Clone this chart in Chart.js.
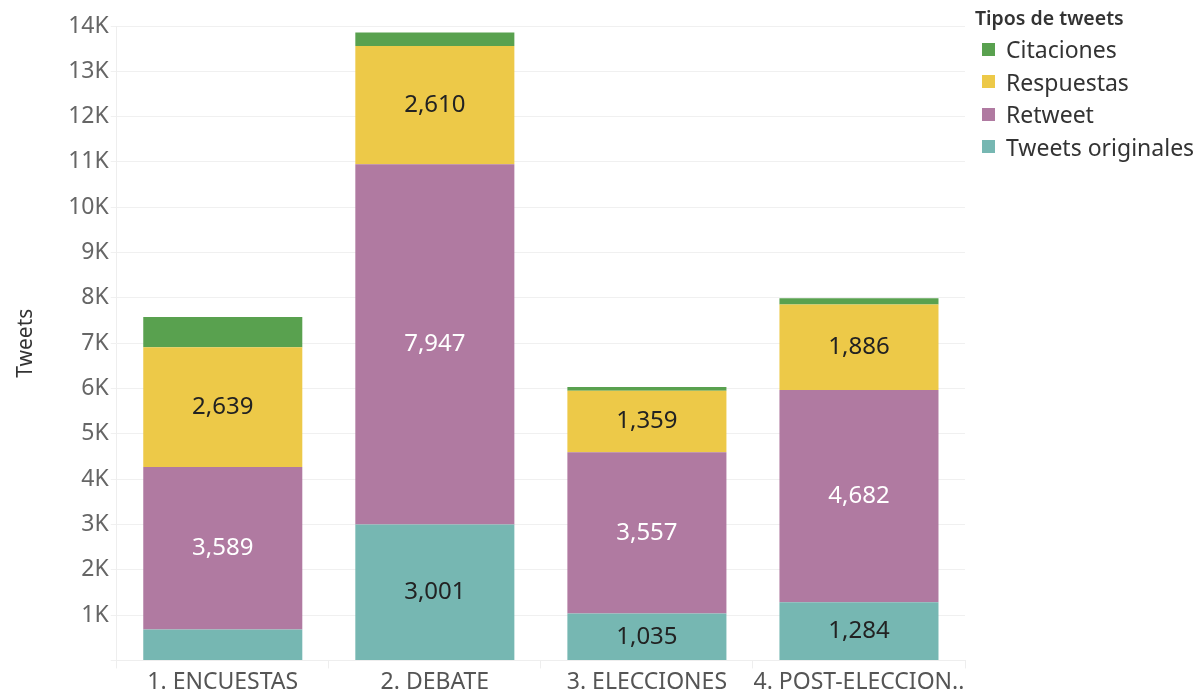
<!DOCTYPE html>
<html>
<head>
<meta charset="utf-8">
<script src="https://cdn.jsdelivr.net/npm/chart.js@4/dist/chart.umd.min.js"></script>
<style>
  html, body { margin: 0; padding: 0; background: #fff; }
  .wrap { position: relative; width: 1200px; height: 696px; font-family: "Noto Sans", sans-serif; }
  #chart { position: absolute; left: 0; top: 0; }
  .legend { position: absolute; left: 975px; top: 4px; color: #333; }
  .legend-title { font-size: 19.5px; font-weight: 600; margin-bottom: 2px; }
  .legend-item { display: flex; align-items: center; height: 32.5px; font-size: 23px; padding-left: 7px; }
  .legend-item span.sw { width: 13px; height: 13px; margin-right: 11px; }
</style>
</head>
<body>
<div class="wrap">
  <canvas id="chart" width="1200" height="696"></canvas>
  <div class="legend" id="legend"></div>
</div>
<script>
// ---------------- data ----------------
const categories = ['1. ENCUESTAS', '2. DEBATE', '3. ELECCIONES', '4. POST-ELECCION..'];
const tweetsOriginales = [680, 3001, 1035, 1284];
const retweet = [3589, 7947, 3557, 4682];
const respuestas = [2639, 2610, 1359, 1886];
const citaciones = [670, 300, 85, 140];
const yTicks = [0, 1000, 2000, 3000, 4000, 5000, 6000, 7000, 8000, 9000, 10000, 11000, 12000, 13000, 14000];

const colors = {
    orig: '#76B7B2',
    rt: '#B07AA1',
    resp: '#EDC948',
    cit: '#59A14F'
};

const datasets = [
    { label: 'Tweets originales', data: tweetsOriginales, backgroundColor: colors.orig, labelColor: '#222' },
    { label: 'Retweet', data: retweet, backgroundColor: colors.rt, labelColor: '#fff' },
    { label: 'Respuestas', data: respuestas, backgroundColor: colors.resp, labelColor: '#222' },
    { label: 'Citaciones', data: citaciones, backgroundColor: colors.cit, labelColor: '#222' }
];

// ---------------- labels inside the bars ----------------
const barLabels = {
    id: 'barLabels',
    afterDatasetsDraw(chart) {
        const ctx = chart.ctx;
        ctx.save();
        ctx.font = '24px "Noto Sans", sans-serif';
        ctx.textAlign = 'center';
        ctx.textBaseline = 'middle';
        chart.data.datasets.forEach((ds, i) => {
            chart.getDatasetMeta(i).data.forEach((bar, j) => {
                const h = Math.abs(bar.base - bar.y);
                if (h < 40) return;
                ctx.fillStyle = ds.labelColor;
                ctx.fillText(ds.data[j].toLocaleString('en-US'), bar.x, (bar.y + bar.base) / 2);
            });
        });
        ctx.restore();
    }
};

new Chart(document.getElementById('chart'), {
    type: 'bar',
    data: { labels: categories, datasets: datasets },
    plugins: [barLabels],
    options: {
        responsive: false,
        animation: false,
        layout: { padding: { left: 13, right: 235, top: 26, bottom: 0 } },
        plugins: {
            legend: { display: false },
            tooltip: { enabled: false }
        },
        datasets: { bar: { barPercentage: 0.75, categoryPercentage: 1 } },
        scales: {
            x: {
                stacked: true,
                grid: { display: true, drawOnChartArea: false, color: '#eee', tickLength: 8, offset: true },
                border: { color: '#eee' },
                ticks: { color: '#555', font: { family: 'Noto Sans', size: 23 }, padding: 0, maxRotation: 0, autoSkip: false }
            },
            y: {
                stacked: true,
                min: 0,
                max: 14000,
                afterBuildTicks: axis => { axis.ticks = yTicks.map(v => ({ value: v })); },
                grid: { color: '#f0f0f0', drawTicks: true, tickLength: 6 },
                border: { color: '#eee' },
                ticks: {
                    color: '#666',
                    font: { family: 'Noto Sans', size: 23 },
                    padding: 2,
                    callback: v => v === 0 ? '' : (v / 1000) + 'K'
                },
                title: {
                    display: true,
                    text: 'Tweets',
                    color: '#333',
                    font: { family: 'Noto Sans', size: 21 },
                    padding: { top: 0, bottom: 28 }
                }
            }
        }
    }
});

// ---------------- legend ----------------
const legend = document.getElementById('legend');
legend.innerHTML = '<div class="legend-title">Tipos de tweets</div>' +
    datasets.slice().reverse().map(ds =>
        `<div class="legend-item"><span class="sw" style="background:${ds.backgroundColor}"></span>${ds.label}</div>`
    ).join('');
</script>
</body>
</html>
